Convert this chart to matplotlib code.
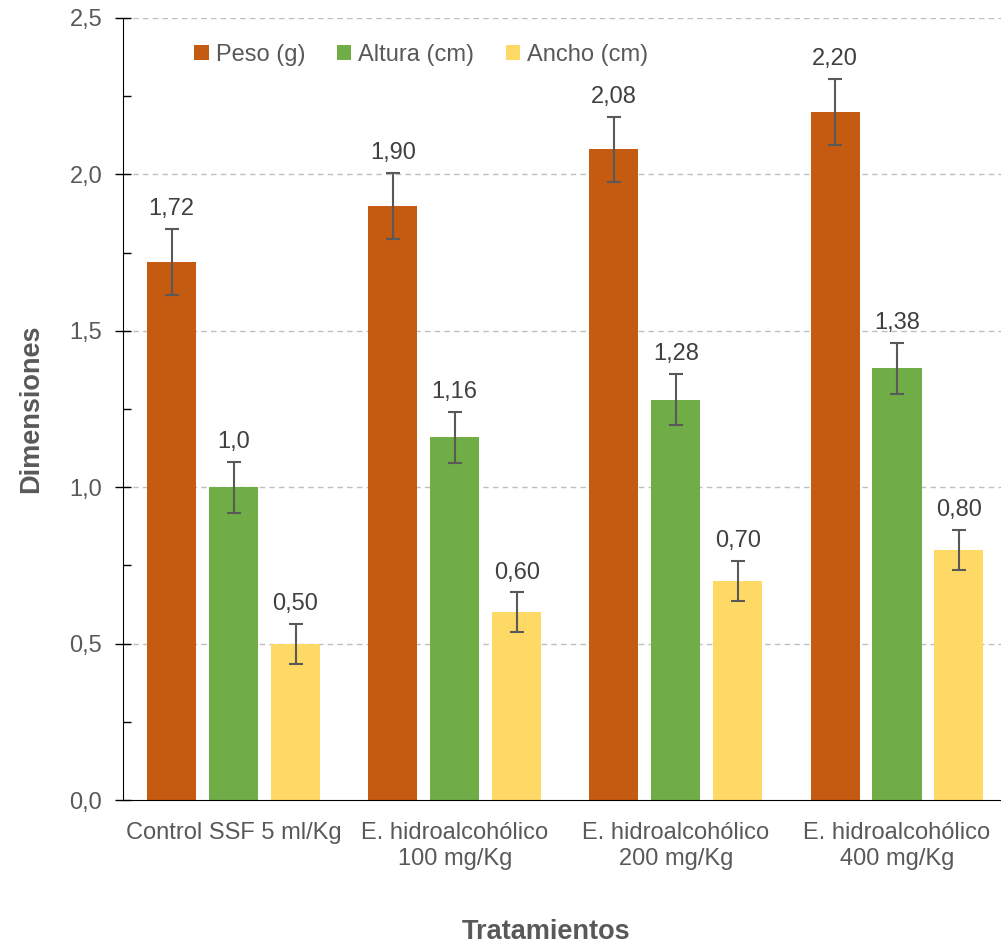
import matplotlib
matplotlib.use('Agg')
import matplotlib.pyplot as plt
import numpy as np
from matplotlib.ticker import MultipleLocator, FuncFormatter

plt.rcParams['font.family'] = ['Liberation Sans', 'DejaVu Sans']

categories = ['Control SSF 5 ml/Kg', 'E. hidroalcohólico\n100 mg/Kg',
              'E. hidroalcohólico\n200 mg/Kg', 'E. hidroalcohólico\n400 mg/Kg']
series = ['Peso (g)', 'Altura (cm)', 'Ancho (cm)']
peso = [1.72, 1.90, 2.08, 2.20]
altura = [1.00, 1.16, 1.28, 1.38]
ancho = [0.50, 0.60, 0.70, 0.80]
peso_err = [0.105, 0.105, 0.105, 0.105]
altura_err = [0.082, 0.082, 0.082, 0.082]
ancho_err = [0.064, 0.064, 0.064, 0.064]
peso_lbl = ['1,72', '1,90', '2,08', '2,20']
altura_lbl = ['1,0', '1,16', '1,28', '1,38']
ancho_lbl = ['0,50', '0,60', '0,70', '0,80']

colors = ['#C55A11', '#70AD47', '#FFD966']
txt = '#595959'

fig = plt.figure(figsize=(10.01, 9.47), dpi=100)
ax = fig.add_axes([0.1229, 0.1552, 0.877, 0.8258])

x = np.arange(len(categories))
width = 0.222
step = 0.28
data = [(peso, peso_err, peso_lbl), (altura, altura_err, altura_lbl),
        (ancho, ancho_err, ancho_lbl)]
for i, (vals, errs, lbls) in enumerate(data):
    pos = x + (i - 1) * step
    ax.bar(pos, vals, width, color=colors[i], label=series[i], zorder=2)
    ax.errorbar(pos, vals, yerr=errs, fmt='none', ecolor='#595959',
                elinewidth=1.5, capsize=5, capthick=1.5, zorder=3)
    for p, v, e, l in zip(pos, vals, errs, lbls):
        ax.text(p, v + e + 0.028, l, ha='center', va='bottom',
                fontsize=17, color='#404040')

ax.set_xlim(-0.5, 3.47)
ax.set_ylim(0, 2.5)
ax.yaxis.set_major_locator(MultipleLocator(0.5))
ax.yaxis.set_minor_locator(MultipleLocator(0.25))
ax.yaxis.set_major_formatter(FuncFormatter(lambda v, p: ('%.1f' % v).replace('.', ',')))
ax.tick_params(axis='y', which='major', direction='inout', length=12,
               width=1, labelsize=17, labelcolor=txt, pad=9)
ax.tick_params(axis='y', which='minor', direction='in', length=6, width=1)
ax.set_xticks(x)
ax.set_xticklabels(categories)
ax.tick_params(axis='x', length=0, labelsize=17, labelcolor=txt, pad=16)

for v in [0.5, 1.0, 1.5, 2.0, 2.5]:
    ax.axhline(v, color='#BFBFBF', lw=1, ls=(0, (4, 3)), zorder=1)

for s in ['top', 'right']:
    ax.spines[s].set_visible(False)
ax.spines['left'].set_color('black')
ax.spines['bottom'].set_color('black')

ax.set_ylabel('Dimensiones', fontsize=19.5, fontweight='bold', color=txt, labelpad=18)
fig.text(546 / 1001, 15 / 947, 'Tratamientos', ha='center', va='center',
         fontsize=19.5, fontweight='bold', color=txt)

leg = ax.legend(loc='center', bbox_to_anchor=(0.34, 0.953), ncol=3, frameon=False,
                fontsize=17, handlelength=0.6, handleheight=0.6,
                handletextpad=0.3, columnspacing=1.35)
for t in leg.get_texts():
    t.set_color(txt)

fig.savefig('out.png', dpi=100)
